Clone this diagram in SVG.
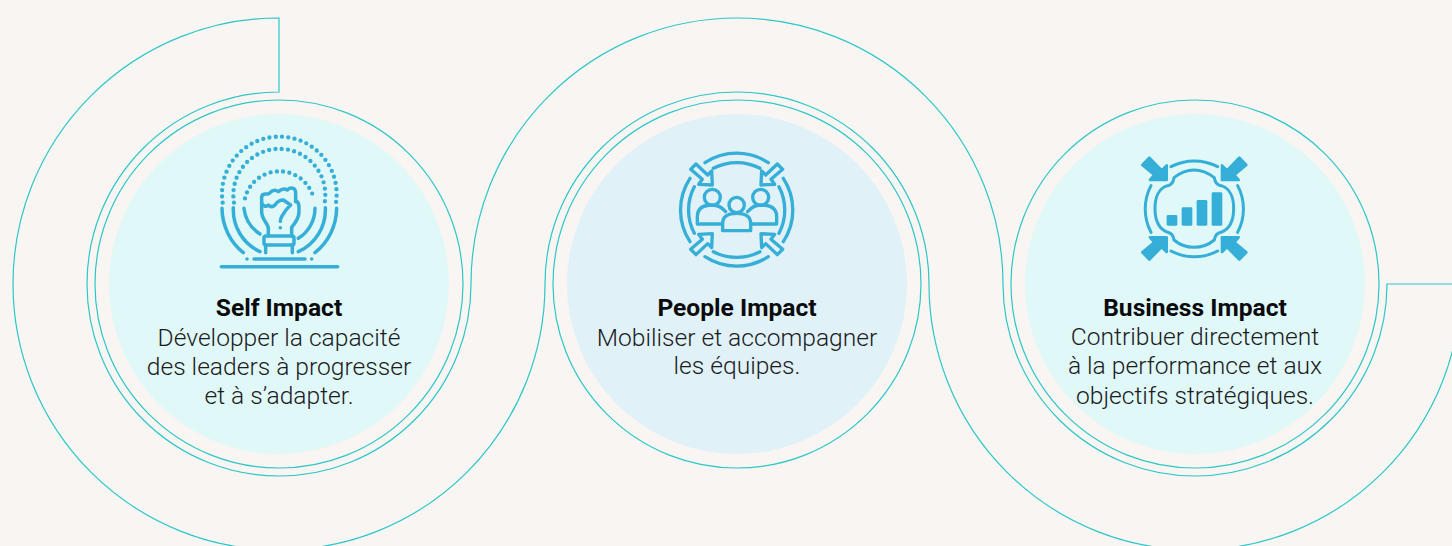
<svg xmlns="http://www.w3.org/2000/svg" width="1452" height="546" viewBox="0 0 1452 546">
<style>
text{font-family:Roboto,"Liberation Sans",sans-serif;text-anchor:middle;fill:#1c1c1e}
.t{font-size:24.6px;font-weight:700;fill:#0b0b0d}
.b{font-size:24.6px;font-weight:300}
.ln{fill:none;stroke:#2cc7c9;stroke-width:1.2}
.ic{fill:none;stroke:#35aed8;stroke-linecap:round;stroke-linejoin:round}
.s9{stroke-width:10.5}
.dot{stroke-dasharray:0 19;stroke-width:13}
.fi{fill:#35aed8;stroke:#35aed8;stroke-width:8;stroke-linejoin:round}
</style>
<defs>
<polygon id="pa" class="ic" style="stroke-width:10" points="-73,-73 -114,-75 -103,-90 -138,-120 -122,-136 -87,-103 -75,-115"/>
<polygon id="ba" class="fi" points="-83,-86 -83,-130 -98,-115 -135,-153 -156,-131 -120,-101 -133,-86"/>
</defs>
<rect width="1452" height="546" fill="#f8f5f2"/>
<g id="connectors">
<path class="ln" d="M471 284A192 192 0 0 1 87 284A192 192 0 0 1 279 92V18A266 266 0 0 0 279 550A266 266 0 0 0 545 284A192 192 0 0 1 929 284A266 266 0 0 0 1461 284H1387A192 192 0 0 1 1003 284A266 266 0 0 0 471 284Z"/>
</g>
<g id="node-self">
<circle cx="279" cy="284" r="170" fill="#e0f8f7"/>
<circle class="ln" cx="279" cy="284" r="184"/>
<g transform="translate(200 140) scale(.3333)">
<path class="ic dot" d="M68 188A172 172 0 1 1 408 188"/>
<path class="ic dot" d="M102 188A138 138 0 1 1 374 188"/>
<path class="ic dot" d="M135 175A106 106 0 0 1 341 175"/>
<g class="ic s9">
<path d="M66 205A172 172 0 0 0 130 338M345 338A172 172 0 0 0 410 205"/>
<path d="M100 203A138 138 0 0 0 180 335M295 335A138 138 0 0 0 376 203"/>
<path d="M132 205A106 106 0 0 0 180 282M295 295A106 106 0 0 0 345 205"/>
<path d="M205 288V265C205 250 185 240 185 215V172Q185 162 197 162Q208 162 210 158Q222 145 235 155Q250 142 262 150Q270 142 280 145Q287 148 287 160V185"/>
<path d="M287 183Q297 187 297 200V215Q297 235 275 262V288"/>
<path d="M185 190Q195 205 205 195Q215 205 225 195Q235 180 250 180L272 195Q260 205 245 230Q240 240 241 244"/>
<path d="M241 263h.1"/>
<rect x="192" y="288" width="90" height="27" rx="6"/>
<path d="M197 315V338M277 315V338M162 357H315M141 357h.1M335 357h.1"/>
<path d="M64 380H413"/>
</g>
</g>
<text class="t" x="279" y="315.5">Self Impact</text>
<text class="b" x="279" y="346">Développer la capacité</text>
<text class="b" x="279" y="375">des leaders à progresser</text>
<text class="b" x="279" y="404">et à s’adapter.</text>
</g>
<g id="node-people">
<circle cx="737" cy="284" r="170" fill="#e0f1f8"/>
<circle class="ln" cx="737" cy="284" r="184"/>
<g transform="translate(660 140) scale(.3333)">
<g class="ic" style="stroke-width:10">
<path d="M135 68A173 173 0 0 1 325 68M160 85A150 150 0 0 1 300 85M135 350A173 173 0 0 0 325 350M160 335A150 150 0 0 0 300 335"/>
<path d="M90 115A173 173 0 0 0 90 305M103 140A150 150 0 0 0 103 280M370 115A173 173 0 0 1 370 305M357 140A150 150 0 0 1 357 280"/>
<circle cx="230" cy="195" r="23"/>
<path d="M188 272V250Q188 220 230 220Q272 220 272 250V272Z"/>
<circle cx="157" cy="172" r="24"/>
<path d="M197 215Q180 195 157 195Q112 195 112 230V252H185"/>
<circle cx="302" cy="172" r="24"/>
<path d="M263 215Q280 195 302 195Q350 195 350 230V252H275"/>
</g>
<use href="#pa" transform="translate(230 208)"/>
<use href="#pa" transform="translate(230 208) scale(-1 1)"/>
<use href="#pa" transform="translate(230 208) scale(1 -1)"/>
<use href="#pa" transform="translate(230 208) scale(-1 -1)"/>
</g>
<text class="t" x="737" y="315.5">People Impact</text>
<text class="b" x="737" y="346">Mobiliser et accompagner</text>
<text class="b" x="737" y="374">les équipes.</text>
</g>
<g id="node-business">
<circle cx="1195" cy="284" r="170" fill="#e0f8f7"/>
<circle class="ln" cx="1195" cy="284" r="184"/>
<g transform="translate(1125 145) scale(.3333)">
<g class="ic" style="stroke-width:9">
<path d="M138 65A150 150 0 0 1 278 65M138 318A150 150 0 0 0 278 318M78 122A150 150 0 0 0 78 262M338 122A150 150 0 0 1 338 262"/>
<path d="M128 122C100 130 90 160 90 190C90 222 100 252 128 262C140 264 145 272 147 285C165 300 185 307 207 307C230 307 250 300 268 285C270 272 277 264 288 262C316 252 326 222 326 190C326 160 316 130 288 122C277 120 270 112 268 98C250 84 230 75 207 75C185 75 165 84 147 98C145 112 140 120 128 122Z"/>
</g>
<g fill="#35aed8">
<rect x="125" y="210" width="32" height="32" rx="4"/>
<rect x="170" y="187" width="32" height="55" rx="4"/>
<rect x="215" y="165" width="32" height="77" rx="4"/>
<rect x="260" y="142" width="32" height="100" rx="4"/>
</g>
<use href="#ba" transform="translate(208 191)"/>
<use href="#ba" transform="translate(208 191) scale(-1 1)"/>
<use href="#ba" transform="translate(208 191) scale(1 -1)"/>
<use href="#ba" transform="translate(208 191) scale(-1 -1)"/>
</g>
<text class="t" x="1195" y="315.5">Business Impact</text>
<text class="b" x="1195" y="345">Contribuer directement</text>
<text class="b" x="1195" y="374">à la performance et aux</text>
<text class="b" x="1195" y="404">objectifs stratégiques.</text>
</g>
</svg>
